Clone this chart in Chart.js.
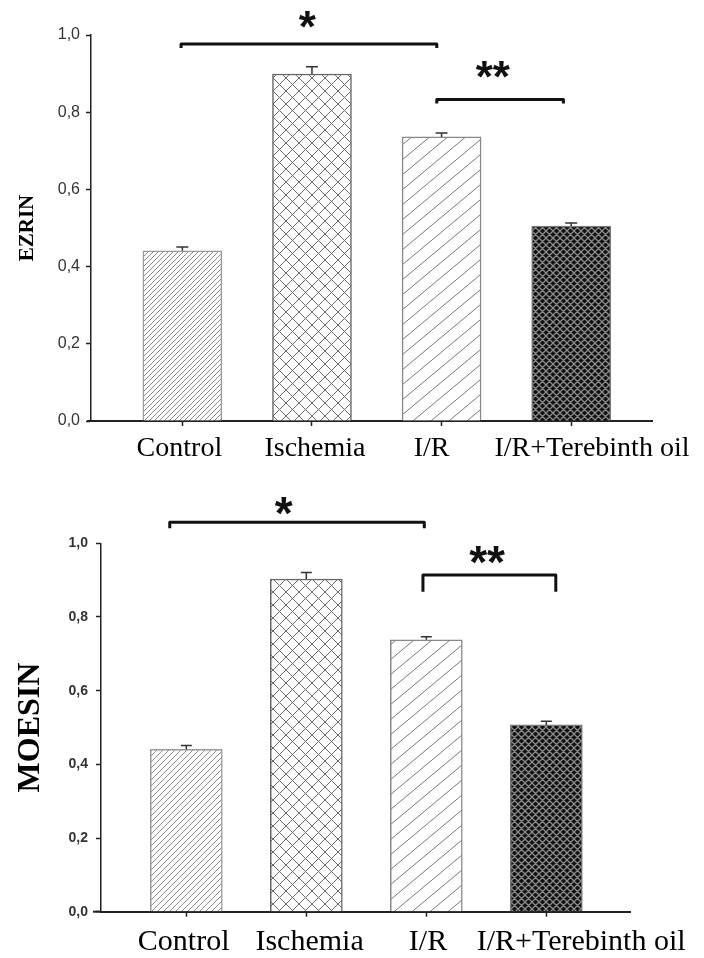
<!DOCTYPE html>
<html><head><meta charset="utf-8">
<script src="https://cdn.jsdelivr.net/npm/chart.js@4.4.1/dist/chart.umd.min.js"></script>
<style>
html,body{margin:0;padding:0;background:#fff;}
#c1{position:absolute;left:0;top:0;}
#c2{position:absolute;left:0;top:475px;}
</style></head><body>
<canvas id="c1" width="704" height="475"></canvas>
<canvas id="c2" width="704" height="483"></canvas>
<script>
// ---- data ----
const categories = ['Control', 'Ischemia', 'I/R', 'I/R+Terebinth oil'];
const yTickValues = [0, 0.2, 0.4, 0.6, 0.8, 1.0];
const yTickLabels = ['0,0', '0,2', '0,4', '0,6', '0,8', '1,0'];
const ezrinValues = [0.441, 0.899, 0.736, 0.505];
const ezrinErrors = [0.010, 0.019, 0.010, 0.008];
const moesinValues = [0.441, 0.903, 0.738, 0.507];
const moesinErrors = [0.010, 0.018, 0.008, 0.010];
const significanceLabels = ['*', '**'];

// ---- patterns ----
function tileCanvas(w, h) { const c = document.createElement('canvas'); c.width = w; c.height = h; return c; }
function diagPattern(w, h, color, lw) {
  const c = tileCanvas(w, h), g = c.getContext('2d');
  g.fillStyle = '#fff'; g.fillRect(0, 0, w, h);
  g.strokeStyle = color; g.lineWidth = lw;
  g.beginPath();
  for (let k = -1; k <= 1; k++) { g.moveTo(k * w, h); g.lineTo(k * w + w, 0); }
  g.stroke();
  return g.createPattern(c, 'repeat');
}
function crossPattern(s, bg, color, lw) {
  const c = tileCanvas(s, s), g = c.getContext('2d');
  g.fillStyle = bg; g.fillRect(0, 0, s, s);
  g.strokeStyle = color; g.lineWidth = lw;
  g.beginPath();
  for (let k = -1; k <= 1; k++) {
    g.moveTo(k * s, 0); g.lineTo(k * s + s, s);
    g.moveTo(k * s, s); g.lineTo(k * s + s, 0);
  }
  g.stroke();
  return g.createPattern(c, 'repeat');
}

const serif = "'Liberation Serif', 'Times New Roman', serif";
const sans = "'Liberation Sans', Arial, sans-serif";

const decorPlugin = {
  id: 'decor',
  afterDatasetsDraw(chart, args, o) {
    const { ctx, chartArea } = chart;
    const x = chart.scales.x, y = chart.scales.y;
    const ds = chart.data.datasets[0];
    ctx.save();
    // small extension of the x axis line to the left of the y axis
    ctx.strokeStyle = '#222'; ctx.lineWidth = 2;
    ctx.beginPath();
    ctx.moveTo(chartArea.left - o.axisExt, chartArea.bottom);
    ctx.lineTo(chartArea.left, chartArea.bottom);
    ctx.stroke();
    // error bars
    ctx.strokeStyle = '#333'; ctx.lineWidth = 1.5;
    ds.data.forEach((pt, i) => {
      const px = x.getPixelForValue(pt.x);
      const y0 = y.getPixelForValue(pt.y);
      const y1 = y.getPixelForValue(pt.y + o.errors[i]);
      ctx.beginPath();
      ctx.moveTo(px, y0); ctx.lineTo(px, y1);
      ctx.moveTo(px - o.capHalf, y1); ctx.lineTo(px + o.capHalf, y1);
      ctx.stroke();
    });
    // significance brackets
    ctx.strokeStyle = '#111'; ctx.lineWidth = 3; ctx.lineJoin = 'round';
    ctx.fillStyle = '#111';
    o.brackets.forEach((b, i) => {
      const x1 = x.getPixelForValue(b.from), x2 = x.getPixelForValue(b.to);
      const yy = y.getPixelForValue(b.level);
      ctx.beginPath();
      ctx.moveTo(x1, yy + b.leg); ctx.lineTo(x1, yy); ctx.lineTo(x2, yy); ctx.lineTo(x2, yy + b.leg);
      ctx.stroke();
      ctx.font = o.starFont;
      ctx.textAlign = 'center'; ctx.textBaseline = 'alphabetic';
      ctx.fillText(significanceLabels[i], x.getPixelForValue(b.tx), y.getPixelForValue(b.ty) + o.starDrop);
    });
    ctx.restore();
  }
};

function makeChart(canvas, values, errors, cfg) {
  const patterns = [
    diagPattern(cfg.dense, cfg.dense, '#8a8a8a', 1),
    crossPattern(cfg.cross, '#fff', '#6a6a6a', 1),
    diagPattern(cfg.sparseW, cfg.sparseH, '#777', 1),
    crossPattern(cfg.dark, '#111', '#8c8c8c', 1.3)
  ];
  return new Chart(canvas, {
    type: 'bar',
    data: {
      datasets: [{
        data: values.map((v, i) => ({ x: i + 1, y: v })),
        backgroundColor: patterns,
        borderColor: ['#9a9a9a', '#666', '#888', '#777'],
        borderWidth: 1.5,
        barThickness: cfg.barW
      }]
    },
    options: {
      responsive: false, animation: false, devicePixelRatio: 1,
      layout: { padding: { top: cfg.padTop, right: cfg.padRight, left: 0, bottom: 0 } },
      plugins: {
        legend: { display: false }, tooltip: { enabled: false },
        decor: { errors, capHalf: cfg.capHalf, brackets: cfg.brackets, starFont: cfg.starFont, starDrop: cfg.starDrop, axisExt: cfg.axisExt }
      },
      scales: {
        x: {
          type: 'linear', position: 'bottom', min: cfg.xMin, max: cfg.xMax, bounds: 'data', weight: 0, offset: false,
          afterBuildTicks: ax => { ax.ticks = categories.map((c, i) => ({ value: i + 1 })); },
          ticks: { display: false, autoSkip: false },
          grid: { display: true, offset: false, drawOnChartArea: false, drawTicks: true, tickLength: 5, tickWidth: 1.5, tickColor: '#222', color: '#222' },
          border: { display: true, color: '#222', width: 2 },
          afterFit: ax => { ax.height = 5; }
        },
        xl: {
          type: 'linear', position: 'bottom', min: cfg.xMin, max: cfg.xMax, bounds: 'data', weight: 1, offset: false,
          afterBuildTicks: ax => { ax.ticks = categories.map((c, i) => ({ value: i + 1 + cfg.labelShift[i] })); },
          ticks: { autoSkip: false, maxRotation: 0, minRotation: 0, padding: cfg.labelPad, color: '#000',
            font: { family: serif, size: cfg.labelSize, lineHeight: 1 }, callback: (v, i) => categories[i] },
          grid: { display: false, drawTicks: false, offset: false },
          border: { display: false },
          afterFit: ax => { ax.height = cfg.labelH; }
        },
        y: {
          min: 0, max: 1,
          afterBuildTicks: ax => { ax.ticks = yTickValues.map(v => ({ value: v })); },
          ticks: { padding: cfg.yPad, color: '#333', font: { family: sans, size: cfg.yFont, weight: cfg.yWeight }, callback: (v, i) => yTickLabels[i] },
          grid: { drawOnChartArea: false, drawTicks: true, tickLength: 5, tickWidth: 1.5, tickColor: '#222', color: '#222' },
          border: { display: true, color: '#222', width: 1.5 },
          title: { display: true, text: cfg.title, color: '#000', padding: { top: cfg.titlePad, bottom: 0 },
            font: { family: serif, size: cfg.titleSize, weight: 'bold', lineHeight: 1 } },
          afterFit: ax => { ax.width = cfg.yW; }
        }
      }
    },
    plugins: [decorPlugin]
  });
}

makeChart(document.getElementById('c1'), ezrinValues, ezrinErrors, {
  title: 'EZRIN', titleSize: 21, titlePad: 17.5,
  yW: 91, padTop: 35, padRight: 50, xMin: 0.295, xMax: 4.625, axisExt: 4, yPad: 6,
  labelShift: [-0.023, 0.023, -0.077, 0.16], labelPad: 9, labelSize: 28, labelH: 49,
  yFont: 16, yWeight: 'normal', barW: 79, capHalf: 6,
  dense: 5, cross: 13, sparseW: 18, sparseH: 15, dark: 7,
  starFont: "bold 44px " + sans, starDrop: 20,
  brackets: [
    { from: 0.99, to: 2.963, level: 0.977, leg: 4, tx: 1.964, ty: 1.034 },
    { from: 2.963, to: 3.94, level: 0.833, leg: 4, tx: 3.395, ty: 0.904 }
  ]
});

makeChart(document.getElementById('c2'), moesinValues, moesinErrors, {
  title: 'MOESIN', titleSize: 32, titlePad: 15,
  yW: 101, padTop: 68.3, padRight: 73.2, xMin: 0.289, xMax: 4.704, axisExt: 8, yPad: 8,
  labelShift: [-0.022, 0.027, 0.014, 0.29], labelPad: 10, labelSize: 30, labelH: 41.3,
  yFont: 14, yWeight: 'bold', barW: 72, capHalf: 5.5,
  dense: 6, cross: 13, sparseW: 18, sparseH: 15, dark: 7,
  starFont: "bold 46px " + sans, starDrop: 21,
  brackets: [
    { from: 0.862, to: 2.983, level: 1.057, leg: 6, tx: 1.811, ty: 1.095 },
    { from: 2.972, to: 4.079, level: 0.914, leg: 16.7, tx: 3.506, ty: 0.964 }
  ]
});
</script>
</body></html>
